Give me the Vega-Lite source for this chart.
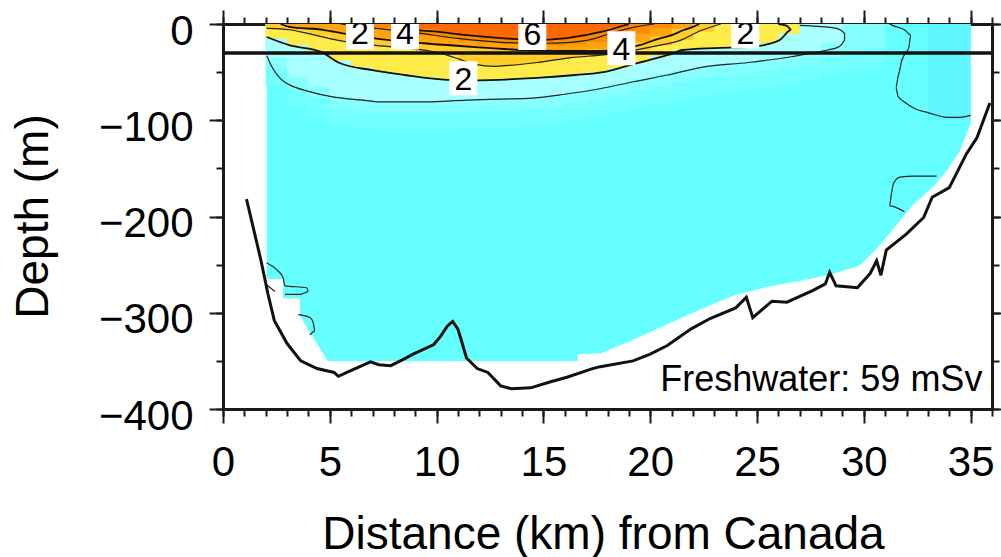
{
  "$schema": "https://vega.github.io/schema/vega-lite/v6.json",
  "width": 769,
  "height": 385,
  "autosize": {"type": "none"},
  "padding": {"left": 223, "top": 24, "right": 9, "bottom": 148},
  "background": "white",
  "config": {
    "view": {"stroke": null},
    "font": "Liberation Sans",
    "axis": {
      "grid": false,
      "domainColor": "#1a1a1a",
      "domainWidth": 3,
      "domainCap": "square",
      "tickColor": "#1a1a1a",
      "tickWidth": 2,
      "labelColor": "black",
      "labelFont": "Liberation Sans",
      "labelFontSize": 42,
      "titleFont": "Liberation Sans",
      "titleFontSize": 46,
      "titleFontWeight": "normal",
      "titleColor": "black",
      "zindex": 1,
      "labelOverlap": false,
      "labelFlush": false
    }
  },
  "datasets": {
    "base": [
      {"x": 2.05, "d": -265}, {"x": 2.8, "d": -265}, {"x": 2.81, "d": -285}, {"x": 3.6, "d": -285},
      {"x": 3.61, "d": -303}, {"x": 4.0, "d": -318}, {"x": 4.9, "d": -350}, {"x": 16.6, "d": -350},
      {"x": 16.61, "d": -343}, {"x": 17.7, "d": -342}, {"x": 19.0, "d": -330}, {"x": 20.8, "d": -312},
      {"x": 22.5, "d": -295}, {"x": 23.9, "d": -282}, {"x": 25.5, "d": -273}, {"x": 27.0, "d": -267},
      {"x": 28.5, "d": -260}, {"x": 29.8, "d": -251}, {"x": 30.4, "d": -238}, {"x": 30.9, "d": -226},
      {"x": 31.6, "d": -207}, {"x": 32.3, "d": -188}, {"x": 33.2, "d": -170}, {"x": 33.9, "d": -152},
      {"x": 34.5, "d": -132}, {"x": 35.0, "d": -103}
    ],
    "strip": [
      {"x": 33.0, "d": -100}, {"x": 35.0, "d": -100}
    ],
    "fill": [
      {"lev": 0.4, "x": 2, "d": -65}, {"lev": 0.4, "x": 3, "d": -85}, {"lev": 0.4, "x": 4, "d": -95}, {"lev": 0.4, "x": 5, "d": -105},
      {"lev": 0.4, "x": 6, "d": -108}, {"lev": 0.4, "x": 7, "d": -110}, {"lev": 0.4, "x": 8, "d": -110}, {"lev": 0.4, "x": 9, "d": -110},
      {"lev": 0.4, "x": 10, "d": -110}, {"lev": 0.4, "x": 11, "d": -109}, {"lev": 0.4, "x": 12, "d": -108}, {"lev": 0.4, "x": 13, "d": -107},
      {"lev": 0.4, "x": 14, "d": -106}, {"lev": 0.4, "x": 15, "d": -104}, {"lev": 0.4, "x": 16, "d": -100}, {"lev": 0.4, "x": 17, "d": -96},
      {"lev": 0.4, "x": 18, "d": -92}, {"lev": 0.4, "x": 19, "d": -87}, {"lev": 0.4, "x": 20, "d": -82}, {"lev": 0.4, "x": 21, "d": -78},
      {"lev": 0.4, "x": 22, "d": -74}, {"lev": 0.4, "x": 23, "d": -71}, {"lev": 0.4, "x": 24, "d": -69}, {"lev": 0.4, "x": 25, "d": -66},
      {"lev": 0.4, "x": 26, "d": -63}, {"lev": 0.4, "x": 27, "d": -58}, {"lev": 0.4, "x": 28, "d": -53}, {"lev": 0.4, "x": 29, "d": -48},
      {"lev": 0.4, "x": 30, "d": -45}, {"lev": 0.4, "x": 31, "d": -45},

      {"lev": 0.7, "x": 2, "d": -47}, {"lev": 0.7, "x": 3, "d": -67}, {"lev": 0.7, "x": 4, "d": -77}, {"lev": 0.7, "x": 5, "d": -87},
      {"lev": 0.7, "x": 6, "d": -90}, {"lev": 0.7, "x": 7, "d": -92}, {"lev": 0.7, "x": 8, "d": -92}, {"lev": 0.7, "x": 9, "d": -92},
      {"lev": 0.7, "x": 10, "d": -92}, {"lev": 0.7, "x": 11, "d": -91}, {"lev": 0.7, "x": 12, "d": -90}, {"lev": 0.7, "x": 13, "d": -89},
      {"lev": 0.7, "x": 14, "d": -88}, {"lev": 0.7, "x": 15, "d": -86}, {"lev": 0.7, "x": 16, "d": -82}, {"lev": 0.7, "x": 17, "d": -78},
      {"lev": 0.7, "x": 18, "d": -74}, {"lev": 0.7, "x": 19, "d": -69}, {"lev": 0.7, "x": 20, "d": -64}, {"lev": 0.7, "x": 21, "d": -60},
      {"lev": 0.7, "x": 22, "d": -56}, {"lev": 0.7, "x": 23, "d": -53}, {"lev": 0.7, "x": 24, "d": -51}, {"lev": 0.7, "x": 25, "d": -48},
      {"lev": 0.7, "x": 26, "d": -45}, {"lev": 0.7, "x": 27, "d": -40}, {"lev": 0.7, "x": 28, "d": -35}, {"lev": 0.7, "x": 29, "d": -30},
      {"lev": 0.7, "x": 30, "d": -25}, {"lev": 0.7, "x": 31, "d": -25},

      {"lev": 1, "x": 2, "d": -35}, {"lev": 1, "x": 3, "d": -55}, {"lev": 1, "x": 4, "d": -65}, {"lev": 1, "x": 5, "d": -75},
      {"lev": 1, "x": 6, "d": -78}, {"lev": 1, "x": 7, "d": -80}, {"lev": 1, "x": 8, "d": -80}, {"lev": 1, "x": 9, "d": -80},
      {"lev": 1, "x": 10, "d": -80}, {"lev": 1, "x": 11, "d": -79}, {"lev": 1, "x": 12, "d": -78}, {"lev": 1, "x": 13, "d": -77},
      {"lev": 1, "x": 14, "d": -76}, {"lev": 1, "x": 15, "d": -74}, {"lev": 1, "x": 16, "d": -70}, {"lev": 1, "x": 17, "d": -66},
      {"lev": 1, "x": 18, "d": -62}, {"lev": 1, "x": 19, "d": -57}, {"lev": 1, "x": 20, "d": -52}, {"lev": 1, "x": 21, "d": -48},
      {"lev": 1, "x": 22, "d": -44}, {"lev": 1, "x": 23, "d": -41}, {"lev": 1, "x": 24, "d": -39}, {"lev": 1, "x": 25, "d": -36},
      {"lev": 1, "x": 26, "d": -33}, {"lev": 1, "x": 27, "d": -28}, {"lev": 1, "x": 28, "d": -20}, {"lev": 1, "x": 29, "d": -20},

      {"lev": 2, "x": 2, "d": -15}, {"lev": 2, "x": 3, "d": -22}, {"lev": 2, "x": 4, "d": -28}, {"lev": 2, "x": 5, "d": -38},
      {"lev": 2, "x": 6, "d": -45}, {"lev": 2, "x": 7, "d": -50}, {"lev": 2, "x": 8, "d": -53}, {"lev": 2, "x": 9, "d": -55},
      {"lev": 2, "x": 10, "d": -58}, {"lev": 2, "x": 11, "d": -58}, {"lev": 2, "x": 12, "d": -58}, {"lev": 2, "x": 13, "d": -57},
      {"lev": 2, "x": 14, "d": -56}, {"lev": 2, "x": 15, "d": -55}, {"lev": 2, "x": 16, "d": -53}, {"lev": 2, "x": 17, "d": -50},
      {"lev": 2, "x": 18, "d": -46}, {"lev": 2, "x": 19, "d": -40}, {"lev": 2, "x": 20, "d": -33}, {"lev": 2, "x": 21, "d": -27},
      {"lev": 2, "x": 22, "d": -25}, {"lev": 2, "x": 23, "d": -25}, {"lev": 2, "x": 24, "d": -24}, {"lev": 2, "x": 25, "d": -20},
      {"lev": 2, "x": 26, "d": -10}, {"lev": 2, "x": 27, "d": -10},

      {"lev": 3, "x": 2, "d": -5}, {"lev": 3, "x": 3, "d": -7}, {"lev": 3, "x": 4, "d": -12}, {"lev": 3, "x": 5, "d": -17},
      {"lev": 3, "x": 6, "d": -20}, {"lev": 3, "x": 7, "d": -23}, {"lev": 3, "x": 8, "d": -25}, {"lev": 3, "x": 9, "d": -28},
      {"lev": 3, "x": 10, "d": -32}, {"lev": 3, "x": 11, "d": -40}, {"lev": 3, "x": 12, "d": -43}, {"lev": 3, "x": 13, "d": -43},
      {"lev": 3, "x": 14, "d": -41}, {"lev": 3, "x": 15, "d": -38}, {"lev": 3, "x": 16, "d": -35}, {"lev": 3, "x": 17, "d": -33},
      {"lev": 3, "x": 18, "d": -30}, {"lev": 3, "x": 19, "d": -27}, {"lev": 3, "x": 20, "d": -22}, {"lev": 3, "x": 21, "d": -17},
      {"lev": 3, "x": 22, "d": -8}, {"lev": 3, "x": 23, "d": -8},

      {"lev": 4, "x": 3, "d": -3}, {"lev": 4, "x": 4, "d": -5}, {"lev": 4, "x": 5, "d": -9}, {"lev": 4, "x": 6, "d": -12},
      {"lev": 4, "x": 7, "d": -15}, {"lev": 4, "x": 8, "d": -18}, {"lev": 4, "x": 9, "d": -20}, {"lev": 4, "x": 10, "d": -22},
      {"lev": 4, "x": 11, "d": -24}, {"lev": 4, "x": 12, "d": -25}, {"lev": 4, "x": 13, "d": -26}, {"lev": 4, "x": 14, "d": -27},
      {"lev": 4, "x": 15, "d": -27}, {"lev": 4, "x": 16, "d": -27}, {"lev": 4, "x": 17, "d": -26}, {"lev": 4, "x": 18, "d": -24},
      {"lev": 4, "x": 19, "d": -19}, {"lev": 4, "x": 20, "d": -13}, {"lev": 4, "x": 21, "d": -5}, {"lev": 4, "x": 22, "d": -5},

      {"lev": 5, "x": 6, "d": -2}, {"lev": 5, "x": 7, "d": -4}, {"lev": 5, "x": 8, "d": -7}, {"lev": 5, "x": 9, "d": -12},
      {"lev": 5, "x": 10, "d": -15}, {"lev": 5, "x": 11, "d": -18}, {"lev": 5, "x": 12, "d": -20}, {"lev": 5, "x": 13, "d": -21},
      {"lev": 5, "x": 14, "d": -22}, {"lev": 5, "x": 15, "d": -22}, {"lev": 5, "x": 16, "d": -21}, {"lev": 5, "x": 17, "d": -19},
      {"lev": 5, "x": 18, "d": -15}, {"lev": 5, "x": 19, "d": -10}, {"lev": 5, "x": 20, "d": -4}, {"lev": 5, "x": 21, "d": -4},

      {"lev": 6, "x": 9, "d": -5}, {"lev": 6, "x": 10, "d": -9}, {"lev": 6, "x": 11, "d": -12}, {"lev": 6, "x": 12, "d": -15},
      {"lev": 6, "x": 13, "d": -16}, {"lev": 6, "x": 14, "d": -17}, {"lev": 6, "x": 15, "d": -16}, {"lev": 6, "x": 16, "d": -14},
      {"lev": 6, "x": 17, "d": -9}, {"lev": 6, "x": 18, "d": -3}, {"lev": 6, "x": 19, "d": -3}
    ],
    "contours": [
      {"id": "c1", "lev": 1, "x": 2.05, "d": -33}, {"id": "c1", "lev": 1, "x": 2.3, "d": -45}, {"id": "c1", "lev": 1, "x": 2.7, "d": -57},
      {"id": "c1", "lev": 1, "x": 3.1, "d": -63}, {"id": "c1", "lev": 1, "x": 4.0, "d": -70}, {"id": "c1", "lev": 1, "x": 5.2, "d": -76},
      {"id": "c1", "lev": 1, "x": 6.5, "d": -79}, {"id": "c1", "lev": 1, "x": 7.5, "d": -81}, {"id": "c1", "lev": 1, "x": 9.5, "d": -81},
      {"id": "c1", "lev": 1, "x": 11.4, "d": -79}, {"id": "c1", "lev": 1, "x": 13.0, "d": -78}, {"id": "c1", "lev": 1, "x": 14.5, "d": -77},
      {"id": "c1", "lev": 1, "x": 16.0, "d": -73}, {"id": "c1", "lev": 1, "x": 17.7, "d": -67}, {"id": "c1", "lev": 1, "x": 19.2, "d": -60},
      {"id": "c1", "lev": 1, "x": 20.8, "d": -53}, {"id": "c1", "lev": 1, "x": 22.4, "d": -45}, {"id": "c1", "lev": 1, "x": 24.6, "d": -40},
      {"id": "c1", "lev": 1, "x": 26.6, "d": -34}, {"id": "c1", "lev": 1, "x": 27.6, "d": -30}, {"id": "c1", "lev": 1, "x": 28.3, "d": -27},
      {"id": "c1", "lev": 1, "x": 28.8, "d": -24}, {"id": "c1", "lev": 1, "x": 29.1, "d": -16}, {"id": "c1", "lev": 1, "x": 29.1, "d": -10},
      {"id": "c1", "lev": 1, "x": 28.8, "d": -5}, {"id": "c1", "lev": 1, "x": 28.2, "d": -3}, {"id": "c1", "lev": 1, "x": 27.5, "d": -2},
      {"id": "c1", "lev": 1, "x": 27.0, "d": -1.5},

      {"id": "c2", "lev": 2, "x": 2.05, "d": -13.5}, {"id": "c2", "lev": 2, "x": 3.1, "d": -22}, {"id": "c2", "lev": 2, "x": 4.6, "d": -29},
      {"id": "c2", "lev": 2, "x": 5.4, "d": -40}, {"id": "c2", "lev": 2, "x": 7.0, "d": -48}, {"id": "c2", "lev": 2, "x": 8.5, "d": -53},
      {"id": "c2", "lev": 2, "x": 10.5, "d": -58}, {"id": "c2", "lev": 2, "x": 11.6, "d": -58.5}, {"id": "c2", "lev": 2, "x": 14.7, "d": -56},
      {"id": "c2", "lev": 2, "x": 16.5, "d": -53}, {"id": "c2", "lev": 2, "x": 17.8, "d": -50}, {"id": "c2", "lev": 2, "x": 19.0, "d": -43},
      {"id": "c2", "lev": 2, "x": 20.2, "d": -36}, {"id": "c2", "lev": 2, "x": 21.0, "d": -31}, {"id": "c2", "lev": 2, "x": 21.5, "d": -27},
      {"id": "c2", "lev": 2, "x": 23.0, "d": -25}, {"id": "c2", "lev": 2, "x": 24.6, "d": -24}, {"id": "c2", "lev": 2, "x": 25.5, "d": -21},
      {"id": "c2", "lev": 2, "x": 26.1, "d": -16}, {"id": "c2", "lev": 2, "x": 26.6, "d": -6}, {"id": "c2", "lev": 2, "x": 26.4, "d": -2},
      {"id": "c2", "lev": 2, "x": 26.0, "d": 0},

      {"id": "c3", "lev": 3, "x": 2.05, "d": -4.5}, {"id": "c3", "lev": 3, "x": 3.1, "d": -6}, {"id": "c3", "lev": 3, "x": 3.9, "d": -9.5},
      {"id": "c3", "lev": 3, "x": 5.4, "d": -17}, {"id": "c3", "lev": 3, "x": 7.0, "d": -22}, {"id": "c3", "lev": 3, "x": 8.6, "d": -25},
      {"id": "c3", "lev": 3, "x": 10.1, "d": -30}, {"id": "c3", "lev": 3, "x": 11.0, "d": -36}, {"id": "c3", "lev": 3, "x": 11.8, "d": -42},
      {"id": "c3", "lev": 3, "x": 12.7, "d": -44}, {"id": "c3", "lev": 3, "x": 13.4, "d": -43}, {"id": "c3", "lev": 3, "x": 14.7, "d": -40},
      {"id": "c3", "lev": 3, "x": 16.3, "d": -35}, {"id": "c3", "lev": 3, "x": 17.8, "d": -32}, {"id": "c3", "lev": 3, "x": 19.1, "d": -28},
      {"id": "c3", "lev": 3, "x": 20.0, "d": -24}, {"id": "c3", "lev": 3, "x": 21.4, "d": -17}, {"id": "c3", "lev": 3, "x": 22.4, "d": -6.5},
      {"id": "c3", "lev": 3, "x": 23.0, "d": -2}, {"id": "c3", "lev": 3, "x": 23.3, "d": 0},

      {"id": "c4", "lev": 4, "x": 2.7, "d": 0}, {"id": "c4", "lev": 4, "x": 3.1, "d": -3}, {"id": "c4", "lev": 4, "x": 4.7, "d": -6},
      {"id": "c4", "lev": 4, "x": 5.9, "d": -11}, {"id": "c4", "lev": 4, "x": 7.8, "d": -16.7}, {"id": "c4", "lev": 4, "x": 9.4, "d": -20},
      {"id": "c4", "lev": 4, "x": 11.8, "d": -24}, {"id": "c4", "lev": 4, "x": 14.0, "d": -27}, {"id": "c4", "lev": 4, "x": 16.0, "d": -28},
      {"id": "c4", "lev": 4, "x": 17.5, "d": -28}, {"id": "c4", "lev": 4, "x": 18.7, "d": -26}, {"id": "c4", "lev": 4, "x": 19.5, "d": -22},
      {"id": "c4", "lev": 4, "x": 20.3, "d": -16}, {"id": "c4", "lev": 4, "x": 21.0, "d": -11.5}, {"id": "c4", "lev": 4, "x": 21.6, "d": -6},
      {"id": "c4", "lev": 4, "x": 22.0, "d": -3}, {"id": "c4", "lev": 4, "x": 22.3, "d": 0},

      {"id": "c5", "lev": 5, "x": 5.5, "d": 0}, {"id": "c5", "lev": 5, "x": 7.0, "d": -4}, {"id": "c5", "lev": 5, "x": 9.0, "d": -9},
      {"id": "c5", "lev": 5, "x": 11.0, "d": -15}, {"id": "c5", "lev": 5, "x": 13.0, "d": -19}, {"id": "c5", "lev": 5, "x": 15.0, "d": -20},
      {"id": "c5", "lev": 5, "x": 16.3, "d": -19}, {"id": "c5", "lev": 5, "x": 17.1, "d": -16.7}, {"id": "c5", "lev": 5, "x": 18.2, "d": -9.4},
      {"id": "c5", "lev": 5, "x": 19.1, "d": -4}, {"id": "c5", "lev": 5, "x": 20.2, "d": 0},

      {"id": "c6", "lev": 6, "x": 8.5, "d": 0}, {"id": "c6", "lev": 6, "x": 9.1, "d": -6}, {"id": "c6", "lev": 6, "x": 10.0, "d": -8},
      {"id": "c6", "lev": 6, "x": 11.4, "d": -11.5}, {"id": "c6", "lev": 6, "x": 13.0, "d": -14.6}, {"id": "c6", "lev": 6, "x": 14.5, "d": -16.7},
      {"id": "c6", "lev": 6, "x": 16.1, "d": -14.6}, {"id": "c6", "lev": 6, "x": 17.7, "d": -8.3}, {"id": "c6", "lev": 6, "x": 18.4, "d": -4},
      {"id": "c6", "lev": 6, "x": 19.0, "d": 0},

      {"id": "r0", "lev": 0, "x": 31.2, "d": 0}, {"id": "r0", "lev": 0, "x": 31.4, "d": -2}, {"id": "r0", "lev": 0, "x": 31.9, "d": -6},
      {"id": "r0", "lev": 0, "x": 32.2, "d": -11.5}, {"id": "r0", "lev": 0, "x": 32.1, "d": -25}, {"id": "r0", "lev": 0, "x": 31.9, "d": -32},
      {"id": "r0", "lev": 0, "x": 31.75, "d": -40}, {"id": "r0", "lev": 0, "x": 31.7, "d": -46}, {"id": "r0", "lev": 0, "x": 31.6, "d": -55},
      {"id": "r0", "lev": 0, "x": 31.5, "d": -66}, {"id": "r0", "lev": 0, "x": 31.6, "d": -75}, {"id": "r0", "lev": 0, "x": 31.9, "d": -81},
      {"id": "r0", "lev": 0, "x": 32.4, "d": -88}, {"id": "r0", "lev": 0, "x": 33.0, "d": -92}, {"id": "r0", "lev": 0, "x": 33.9, "d": -97},
      {"id": "r0", "lev": 0, "x": 34.5, "d": -97}, {"id": "r0", "lev": 0, "x": 35.0, "d": -95},

      {"id": "r1", "lev": 0, "x": 33.4, "d": -158}, {"id": "r1", "lev": 0, "x": 32.3, "d": -158}, {"id": "r1", "lev": 0, "x": 31.7, "d": -159},
      {"id": "r1", "lev": 0, "x": 31.4, "d": -165}, {"id": "r1", "lev": 0, "x": 31.3, "d": -175}, {"id": "r1", "lev": 0, "x": 31.2, "d": -189},
      {"id": "r1", "lev": 0, "x": 31.9, "d": -195},

      {"id": "a1", "lev": 0, "x": 2.04, "d": -248}, {"id": "a1", "lev": 0, "x": 2.5, "d": -255}, {"id": "a1", "lev": 0, "x": 2.82, "d": -264},
      {"id": "a1", "lev": 0, "x": 2.85, "d": -268}, {"id": "a1", "lev": 0, "x": 2.9, "d": -272}, {"id": "a1", "lev": 0, "x": 3.92, "d": -274},
      {"id": "a1", "lev": 0, "x": 4.0, "d": -278}, {"id": "a1", "lev": 0, "x": 3.6, "d": -281}, {"id": "a1", "lev": 0, "x": 2.9, "d": -281},
      {"id": "a2", "lev": 0, "x": 2.04, "d": -271}, {"id": "a2", "lev": 0, "x": 2.43, "d": -278},
      {"id": "a3", "lev": 0, "x": 3.52, "d": -302}, {"id": "a3", "lev": 0, "x": 4.07, "d": -305}, {"id": "a3", "lev": 0, "x": 4.23, "d": -311},
      {"id": "a3", "lev": 0, "x": 4.3, "d": -319}, {"id": "a3", "lev": 0, "x": 4.07, "d": -323}
    ],
    "bathy": [
      {"x": 1.1, "d": -182}, {"x": 1.4, "d": -210}, {"x": 1.78, "d": -246}, {"x": 2.1, "d": -280}, {"x": 2.4, "d": -308},
      {"x": 3.0, "d": -332}, {"x": 3.64, "d": -350}, {"x": 4.4, "d": -358}, {"x": 5.2, "d": -362}, {"x": 5.4, "d": -366},
      {"x": 5.9, "d": -361}, {"x": 6.3, "d": -357}, {"x": 6.9, "d": -351}, {"x": 7.3, "d": -354}, {"x": 7.85, "d": -355},
      {"x": 8.4, "d": -349}, {"x": 8.9, "d": -343}, {"x": 9.87, "d": -333}, {"x": 10.2, "d": -324}, {"x": 10.5, "d": -314},
      {"x": 10.75, "d": -309}, {"x": 11.0, "d": -317}, {"x": 11.2, "d": -332}, {"x": 11.4, "d": -347}, {"x": 11.9, "d": -358},
      {"x": 12.4, "d": -362}, {"x": 13.0, "d": -376}, {"x": 13.5, "d": -379}, {"x": 14.4, "d": -378}, {"x": 15.3, "d": -372},
      {"x": 16.1, "d": -367}, {"x": 17.3, "d": -358}, {"x": 17.66, "d": -356}, {"x": 19.2, "d": -350}, {"x": 20.0, "d": -343},
      {"x": 20.8, "d": -334}, {"x": 21.9, "d": -317}, {"x": 22.8, "d": -306}, {"x": 24.0, "d": -295}, {"x": 24.5, "d": -284},
      {"x": 24.8, "d": -305}, {"x": 25.7, "d": -288}, {"x": 26.4, "d": -289}, {"x": 27.6, "d": -277}, {"x": 28.2, "d": -270},
      {"x": 28.4, "d": -258}, {"x": 28.7, "d": -272}, {"x": 29.7, "d": -274}, {"x": 30.3, "d": -259}, {"x": 30.6, "d": -246},
      {"x": 30.8, "d": -261}, {"x": 31.05, "d": -235}, {"x": 32.0, "d": -218}, {"x": 32.8, "d": -201}, {"x": 33.2, "d": -180},
      {"x": 34.0, "d": -170}, {"x": 34.8, "d": -135}, {"x": 35.3, "d": -118}, {"x": 35.9, "d": -82}
    ],
    "labels": [
      {"x": 6.41, "d": -8.8, "t": "2"}, {"x": 8.52, "d": -8.8, "t": "4"}, {"x": 14.48, "d": -9.3, "t": "6"},
      {"x": 18.65, "d": -25.3, "t": "4"}, {"x": 11.25, "d": -56.4, "t": "2"}, {"x": 24.45, "d": -7.8, "t": "2"}
    ]
  },
  "resolve": {"axis": {"x": "independent", "y": "independent"}},
  "layer": [
    {
      "data": {"name": "base"},
      "mark": {"type": "area", "color": "#66ffff", "clip": true},
      "encoding": {
        "x": {"field": "x", "type": "quantitative", "scale": {"domain": [0, 36], "nice": false, "zero": false},
              "axis": {"orient": "bottom", "values": [0, 5, 10, 15, 20, 25, 30, 35], "tickSize": 14, "labelPadding": 19,
                       "title": "Distance (km) from Canada", "titleX": 380, "titleY": 103}},
        "y": {"field": "d", "type": "quantitative", "scale": {"domain": [-400, 0], "nice": false, "zero": false},
              "axis": {"orient": "left", "values": [0, -100, -200, -300, -400], "tickSize": 14, "labelPadding": 16, "labelOffset": 7,
                       "title": "Depth (m)", "titleX": -166, "titleY": 192}},
        "y2": {"datum": 0}
      }
    },
    {
      "data": {"name": "strip"},
      "mark": {"type": "area", "color": "#5ff6fe", "interpolate": "step-after", "clip": true},
      "encoding": {
        "x": {"field": "x", "type": "quantitative", "scale": {"domain": [0, 36], "nice": false, "zero": false},
              "axis": {"orient": "bottom", "values": [0,1,2,3,4,5,6,7,8,9,10,11,12,13,14,15,16,17,18,19,20,21,22,23,24,25,26,27,28,29,30,31,32,33,34,35,36],
                       "tickSize": 7, "labels": false, "domain": false, "title": null}},
        "y": {"field": "d", "type": "quantitative", "scale": {"domain": [-400, 0], "nice": false, "zero": false},
              "axis": {"orient": "left", "values": [0, -50, -100, -150, -200, -250, -300, -350, -400], "tickSize": 7, "labels": false, "domain": false, "title": null}},
        "y2": {"datum": 0}
      }
    },
    {
      "data": {"name": "fill"},
      "transform": [{"filter": "datum.lev == 0.4"}],
      "mark": {"type": "area", "color": "#74ffff", "interpolate": "step-after", "clip": true},
      "encoding": {
        "x": {"field": "x", "type": "quantitative", "scale": {"domain": [0, 36], "nice": false, "zero": false}, "axis": null},
        "y": {"field": "d", "type": "quantitative", "scale": {"domain": [-400, 0], "nice": false, "zero": false}, "axis": null},
        "y2": {"datum": 0}
      }
    },
    {
      "data": {"name": "fill"},
      "transform": [{"filter": "datum.lev == 0.7"}],
      "mark": {"type": "area", "color": "#86ffff", "interpolate": "step-after", "clip": true},
      "encoding": {
        "x": {"field": "x", "type": "quantitative", "scale": {"domain": [0, 36], "nice": false, "zero": false}, "axis": null},
        "y": {"field": "d", "type": "quantitative", "scale": {"domain": [-400, 0], "nice": false, "zero": false}, "axis": null},
        "y2": {"datum": 0}
      }
    },
    {
      "data": {"name": "fill"},
      "transform": [{"filter": "datum.lev == 1"}],
      "mark": {"type": "area", "color": "#a8ffff", "interpolate": "step-after", "clip": true},
      "encoding": {
        "x": {"field": "x", "type": "quantitative", "scale": {"domain": [0, 36], "nice": false, "zero": false},
              "axis": {"orient": "top", "values": [0, 5, 10, 15, 20, 25, 30, 35], "tickSize": 14, "labels": false, "title": null}},
        "y": {"field": "d", "type": "quantitative", "scale": {"domain": [-400, 0], "nice": false, "zero": false},
              "axis": {"orient": "right", "values": [0, -100, -200, -300, -400], "tickSize": 14, "labels": false, "title": null}},
        "y2": {"datum": 0}
      }
    },
    {
      "data": {"name": "fill"},
      "transform": [{"filter": "datum.lev == 2"}],
      "mark": {"type": "area", "color": "#ffec4a", "interpolate": "step-after", "clip": true},
      "encoding": {
        "x": {"field": "x", "type": "quantitative", "scale": {"domain": [0, 36], "nice": false, "zero": false},
              "axis": {"orient": "top", "values": [0,1,2,3,4,5,6,7,8,9,10,11,12,13,14,15,16,17,18,19,20,21,22,23,24,25,26,27,28,29,30,31,32,33,34,35,36],
                       "tickSize": 7, "labels": false, "domain": false, "title": null}},
        "y": {"field": "d", "type": "quantitative", "scale": {"domain": [-400, 0], "nice": false, "zero": false},
              "axis": {"orient": "right", "values": [0, -50, -100, -150, -200, -250, -300, -350, -400], "tickSize": 7, "labels": false, "domain": false, "title": null}},
        "y2": {"datum": 0}
      }
    },
    {
      "data": {"name": "fill"},
      "transform": [{"filter": "datum.lev == 3"}],
      "mark": {"type": "area", "color": "#ffcc2a", "interpolate": "step-after", "clip": true},
      "encoding": {
        "x": {"field": "x", "type": "quantitative", "scale": {"domain": [0, 36], "nice": false, "zero": false}, "axis": null},
        "y": {"field": "d", "type": "quantitative", "scale": {"domain": [-400, 0], "nice": false, "zero": false}, "axis": null},
        "y2": {"datum": 0}
      }
    },
    {
      "data": {"name": "fill"},
      "transform": [{"filter": "datum.lev == 4"}],
      "mark": {"type": "area", "color": "#ffa30f", "interpolate": "step-after", "clip": true},
      "encoding": {
        "x": {"field": "x", "type": "quantitative", "scale": {"domain": [0, 36], "nice": false, "zero": false}, "axis": null},
        "y": {"field": "d", "type": "quantitative", "scale": {"domain": [-400, 0], "nice": false, "zero": false}, "axis": null},
        "y2": {"datum": 0}
      }
    },
    {
      "data": {"name": "fill"},
      "transform": [{"filter": "datum.lev == 5"}],
      "mark": {"type": "area", "color": "#ff8a00", "interpolate": "step-after", "clip": true},
      "encoding": {
        "x": {"field": "x", "type": "quantitative", "scale": {"domain": [0, 36], "nice": false, "zero": false}, "axis": null},
        "y": {"field": "d", "type": "quantitative", "scale": {"domain": [-400, 0], "nice": false, "zero": false}, "axis": null},
        "y2": {"datum": 0}
      }
    },
    {
      "data": {"name": "fill"},
      "transform": [{"filter": "datum.lev == 6"}],
      "mark": {"type": "area", "color": "#ff6a00", "interpolate": "step-after", "clip": true},
      "encoding": {
        "x": {"field": "x", "type": "quantitative", "scale": {"domain": [0, 36], "nice": false, "zero": false}, "axis": null},
        "y": {"field": "d", "type": "quantitative", "scale": {"domain": [-400, 0], "nice": false, "zero": false}, "axis": null},
        "y2": {"datum": 0}
      }
    },
    {
      "data": {"name": "contours"},
      "transform": [{"filter": "datum.lev != 2 && datum.lev != 4 && datum.lev != 6"}],
      "mark": {"type": "line", "color": "#222222", "strokeWidth": 1.2, "interpolate": "monotone", "clip": true},
      "encoding": {
        "x": {"field": "x", "type": "quantitative", "scale": {"domain": [0, 36], "nice": false, "zero": false}, "axis": null},
        "y": {"field": "d", "type": "quantitative", "scale": {"domain": [-400, 0], "nice": false, "zero": false}, "axis": null},
        "detail": {"field": "id"},
        "order": {"value": null}
      }
    },
    {
      "data": {"name": "contours"},
      "transform": [{"filter": "datum.lev == 2 || datum.lev == 4 || datum.lev == 6"}],
      "mark": {"type": "line", "color": "#111111", "strokeWidth": 1.8, "interpolate": "monotone", "clip": true},
      "encoding": {
        "x": {"field": "x", "type": "quantitative", "scale": {"domain": [0, 36], "nice": false, "zero": false}, "axis": null},
        "y": {"field": "d", "type": "quantitative", "scale": {"domain": [-400, 0], "nice": false, "zero": false}, "axis": null},
        "detail": {"field": "id"},
        "order": {"value": null}
      }
    },
    {
      "data": {"values": [{}]},
      "mark": {"type": "rule", "color": "#111111", "strokeWidth": 3.5},
      "encoding": {
        "y": {"datum": -30, "type": "quantitative", "scale": {"domain": [-400, 0], "nice": false, "zero": false}, "axis": null}
      }
    },
    {
      "data": {"name": "bathy"},
      "mark": {"type": "line", "color": "#111111", "strokeWidth": 3, "clip": true},
      "encoding": {
        "x": {"field": "x", "type": "quantitative", "scale": {"domain": [0, 36], "nice": false, "zero": false}, "axis": null},
        "y": {"field": "d", "type": "quantitative", "scale": {"domain": [-400, 0], "nice": false, "zero": false}, "axis": null}
      }
    },
    {
      "data": {"name": "labels"},
      "mark": {"type": "point", "shape": "M-1,-1.214H1V1.214H-1Z", "size": 784, "filled": true, "color": "white", "opacity": 1, "strokeWidth": 0, "clip": true},
      "encoding": {
        "x": {"field": "x", "type": "quantitative", "scale": {"domain": [0, 36], "nice": false, "zero": false}, "axis": null},
        "y": {"field": "d", "type": "quantitative", "scale": {"domain": [-400, 0], "nice": false, "zero": false}, "axis": null}
      }
    },
    {
      "data": {"name": "labels"},
      "mark": {"type": "text", "font": "Liberation Sans", "fontSize": 32, "color": "black", "align": "center", "baseline": "middle", "dy": 2, "clip": true},
      "encoding": {
        "x": {"field": "x", "type": "quantitative", "scale": {"domain": [0, 36], "nice": false, "zero": false}, "axis": null},
        "y": {"field": "d", "type": "quantitative", "scale": {"domain": [-400, 0], "nice": false, "zero": false}, "axis": null},
        "text": {"field": "t"}
      }
    },
    {
      "data": {"values": [{"t": "Freshwater: 59 mSv"}]},
      "mark": {"type": "text", "font": "Liberation Sans", "fontSize": 36, "color": "black", "align": "right", "baseline": "alphabetic"},
      "encoding": {
        "x": {"datum": 35.55, "type": "quantitative", "scale": {"domain": [0, 36], "nice": false, "zero": false}, "axis": null},
        "y": {"datum": -381, "type": "quantitative", "scale": {"domain": [-400, 0], "nice": false, "zero": false}, "axis": null},
        "text": {"field": "t"}
      }
    }
  ]
}
